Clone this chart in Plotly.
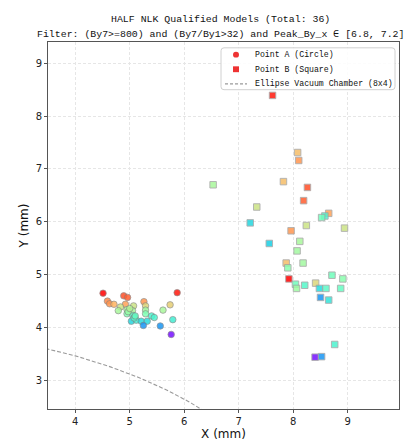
import numpy as np
import plotly.graph_objects as go

# Point A (circles)
ax = [4.51, 5.87, 4.59, 4.63, 4.71, 4.89, 4.96, 4.92, 4.83, 4.79, 5.07, 5.26,
      5.29, 5.29, 5.29, 4.95, 5.05, 4.95, 5.06, 5.09, 5.03, 5.12, 5.21, 5.32,
      5.25, 5.40, 5.45, 5.61, 5.74, 5.79, 5.56, 5.76, 5.08, 5.10, 4.97, 5.00]
ay = [4.65, 4.66, 4.50, 4.45, 4.44, 4.60, 4.57, 4.44, 4.39, 4.32, 4.41, 4.49,
      4.41, 4.33, 4.26, 4.34, 4.32, 4.26, 4.23, 4.20, 4.12, 4.14, 4.12, 4.12,
      4.04, 4.22, 4.19, 4.33, 4.43, 4.15, 4.03, 3.87, 4.18, 4.22, 4.30, 4.36]
ac = [1.00, 0.97, 0.82, 0.80, 0.75, 0.90, 0.88, 0.78, 0.65, 0.58, 0.65, 0.80,
      0.68, 0.57, 0.50, 0.58, 0.58, 0.50, 0.42, 0.40, 0.32, 0.38, 0.33, 0.33,
      0.20, 0.40, 0.40, 0.58, 0.70, 0.38, 0.20, 0.02, 0.42, 0.45, 0.55, 0.60]

# Point B (squares)
bx = [6.53, 7.82, 8.26, 8.19, 7.33, 7.21, 8.65, 8.58, 8.52, 8.24, 8.94, 7.96,
      7.56, 8.12, 8.07, 8.18, 7.87, 7.90, 8.71, 8.91, 7.92, 8.04, 8.21, 8.41,
      8.06, 8.48, 8.60, 8.87, 8.50, 8.65, 8.76, 8.40, 8.52, 7.62, 8.08, 8.10]
by = [6.70, 6.76, 6.65, 6.40, 6.28, 5.98, 6.16, 6.11, 6.08, 5.93, 5.88, 5.83,
      5.59, 5.63, 5.45, 5.22, 5.22, 5.13, 4.99, 4.92, 4.92, 4.82, 4.80, 4.84,
      4.74, 4.74, 4.74, 4.74, 4.57, 4.52, 3.68, 3.44, 3.45, 8.39, 7.31, 7.16]
bc = [0.58, 0.73, 0.90, 0.88, 0.65, 0.32, 0.78, 0.40, 0.47, 0.65, 0.65, 0.80,
      0.30, 0.58, 0.57, 0.57, 0.73, 0.52, 0.47, 0.52, 1.00, 0.47, 0.42, 0.68,
      0.56, 0.33, 0.43, 0.45, 0.20, 0.35, 0.40, 0.02, 0.20, 0.97, 0.73, 0.80]

x_ticks = [4, 5, 6, 7, 8, 9]
y_ticks = [3, 4, 5, 6, 7, 8, 9]
ellipse_a, ellipse_b = 8, 4
legend_labels = ["Point A (Circle)", "Point B (Square)", "Ellipse Vacuum Chamber (8x4)"]
title_lines = ["HALF NLK Qualified Models (Total: 36)",
               "Filter: (By7>=800) and (By7/By1>32) and Peak_By_x ∈ [6.8, 7.2]"]


def rainbow(v):
    r = min(1.0, abs(2 * v - 0.5))
    g = np.sin(np.pi * v)
    b = np.cos(np.pi * v / 2)
    return "rgb(%d,%d,%d)" % (round(r * 255), round(max(g, 0) * 255), round(max(b, 0) * 255))


cscale = [[s, rainbow(s)] for s in np.linspace(0, 1, 21)]

W, H = 419, 441
ML, MR, MT, MB = 40, 28, 34, 30
PW, PH = W - ML - MR, H - MT - MB


def px(xp):
    return (xp - ML) / PW


def py(yp):
    return (H - MB - yp) / PH


mono = "Liberation Mono, DejaVu Sans Mono, monospace"
fig = go.Figure()

t = np.linspace(0, 2 * np.pi, 721)
fig.add_trace(go.Scatter(x=ellipse_a * np.cos(t), y=ellipse_b * np.sin(t), mode="lines",
                         line=dict(color="#9a9a9a", width=1.1, dash="4px,2px"),
                         showlegend=False, hoverinfo="skip"))

fig.add_trace(go.Scatter(x=ax, y=ay, mode="markers", showlegend=False,
                         marker=dict(symbol="circle", size=6.5, color=ac, colorscale=cscale,
                                     cmin=0, cmax=1, opacity=0.85,
                                     line=dict(color="#808080", width=0.7))))
fig.add_trace(go.Scatter(x=bx, y=by, mode="markers", showlegend=False,
                         marker=dict(symbol="square", size=6.5, color=bc, colorscale=cscale,
                                     cmin=0, cmax=1, opacity=0.85,
                                     line=dict(color="#a0a0a0", width=0.9))))

# manual legend (compact, like the reference)
lx0, lx1, ly0, ly1, rr = 213, 387, 40, 83, 3
shapes = [dict(type="path", xref="paper", yref="paper",
               path=("M {a},{b} L {c},{b} Q {d},{b} {d},{e} L {d},{f} Q {d},{g} {c},{g} "
                     "L {a},{g} Q {h},{g} {h},{f} L {h},{e} Q {h},{b} {a},{b} Z").format(
                   a=px(lx0 + rr), b=py(ly0), c=px(lx1 - rr), d=px(lx1), e=py(ly0 + rr),
                   f=py(ly1 - rr), g=py(ly1), h=px(lx0)),
               fillcolor="rgba(255,255,255,0.85)", line=dict(color="#d0d0d0", width=1), layer="above")]
rows = [47, 62, 77]
shapes.append(dict(type="circle", xref="paper", yref="paper", x0=px(225), x1=px(231),
                   y0=py(rows[0] + 3), y1=py(rows[0] - 3), fillcolor="#ee3333",
                   line=dict(width=0), layer="above"))
shapes.append(dict(type="rect", xref="paper", yref="paper", x0=px(225), x1=px(231),
                   y0=py(rows[1] + 3), y1=py(rows[1] - 3), fillcolor="#ee3333",
                   line=dict(width=0), layer="above"))
shapes.append(dict(type="line", xref="paper", yref="paper", x0=px(217), x1=px(239),
                   y0=py(rows[2]), y1=py(rows[2]), line=dict(color="#9a9a9a", width=1.1, dash="3px,2px"),
                   layer="above"))

annotations = []
for lab, r in zip(legend_labels, rows):
    annotations.append(dict(text=lab, xref="paper", yref="paper", x=px(245), y=py(r),
                            xanchor="left", yanchor="middle", showarrow=False,
                            font=dict(family=mono, size=8.2, color="#111")))
for line, yp in zip(title_lines, [11, 26]):
    annotations.append(dict(text=line, xref="paper", yref="paper", x=px(212), y=py(yp),
                            xanchor="center", yanchor="middle", showarrow=False,
                            font=dict(family=mono, size=9.9, color="#111")))

axis_common = dict(showline=True, linecolor="#555555", linewidth=1, mirror=True,
                   ticks="outside", ticklen=3, tickcolor="#555555",
                   showgrid=True, gridcolor="#e6e6e6", griddash="3px,2px", gridwidth=0.8,
                   zeroline=False, tickfont=dict(family="DejaVu Sans", size=10, color="#222"))

fig.update_layout(
    width=W, height=H,
    margin=dict(l=ML, r=MR, t=MT, b=MB),
    paper_bgcolor="white", plot_bgcolor="white",
    showlegend=False,
    xaxis=dict(range=[3.5, 9.94], tickvals=x_ticks,
               title=dict(text="X (mm)", font=dict(family="DejaVu Sans", size=12, color="#111"), standoff=2),
               **axis_common),
    yaxis=dict(range=[2.46, 9.4], tickvals=y_ticks,
               title=dict(text="Y (mm)", font=dict(family="DejaVu Sans", size=12, color="#111"), standoff=4),
               **axis_common),
    shapes=shapes,
    annotations=annotations,
)

fig.write_html("out.html")
